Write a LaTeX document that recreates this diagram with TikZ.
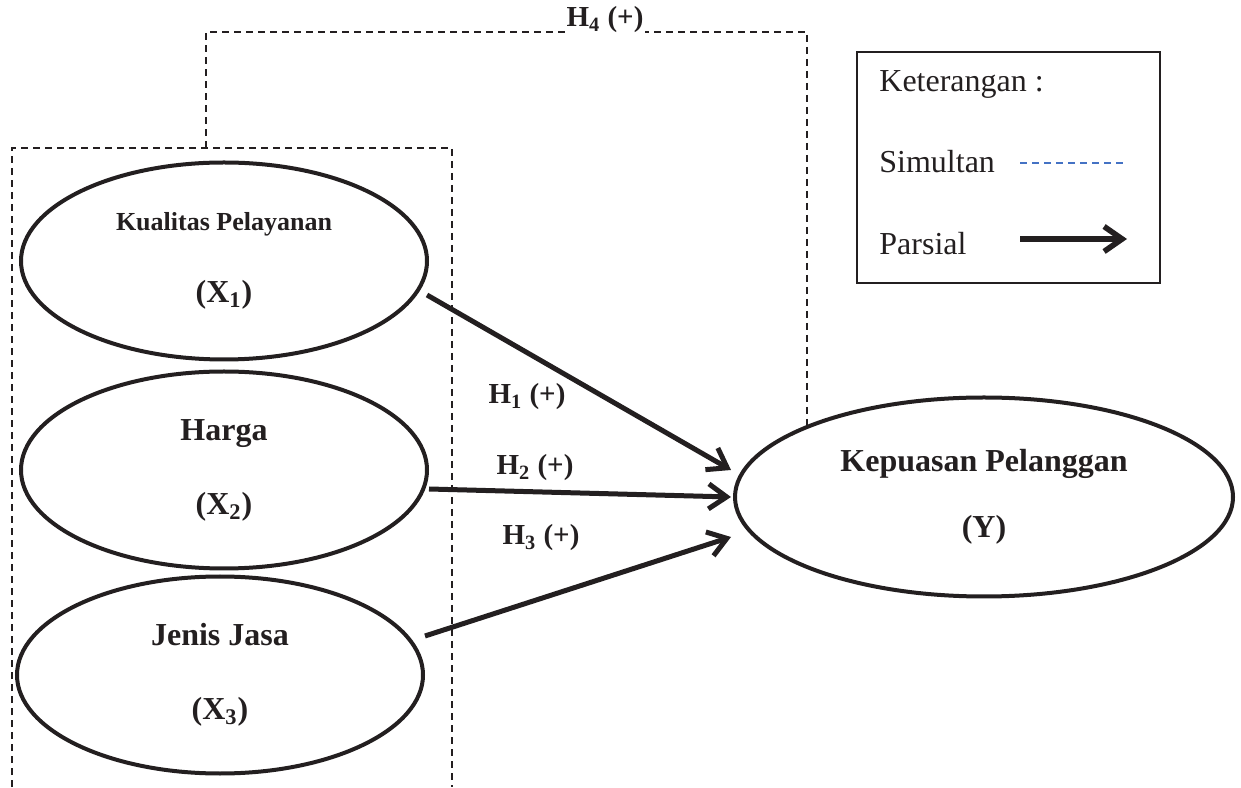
\documentclass[tikz,border=0pt]{standalone}
\usepackage{fontspec}
\setmainfont{Liberation Serif}
\usetikzlibrary{positioning, arrows.meta, shapes.geometric}
\definecolor{ink}{HTML}{231F20}
\definecolor{simblue}{HTML}{4472C4}

\begin{document}
\begin{tikzpicture}[
    x=0.5pt, y=0.5pt,
    var/.style={ellipse, draw=ink, line width=2pt, inner sep=0pt, text=ink,
                minimum width=203pt, minimum height=98.5pt,
                align=center, font=\fontsize{16}{19}\selectfont\bfseries},
    parsial/.style={-{Straight Barb[length=9pt, width=12.5pt]}, line width=2.5pt, draw=ink},
    simultan/.style={draw=ink, line width=1.1pt, dash pattern=on 3.5pt off 2.5pt},
    hyp/.style={text=ink, inner sep=0pt, font=\fontsize{14.5}{17}\selectfont\bfseries},
    legend/.style={text=ink, inner sep=0pt, anchor=base west, font=\fontsize{16}{19}\selectfont}
  ]
    \useasboundingbox (0,0) rectangle (1241,787);

    % variabel
    \node[var] (x1) at (224,526) {{\fontsize{13}{16}\selectfont Kualitas Pelayanan}\\[17pt](X\textsubscript{1})};
    \node[var] (x2) at (224,317) {Harga\\[18pt](X\textsubscript{2})};
    \node[var] (x3) at (220,112) {Jenis Jasa\\[18pt](X\textsubscript{3})};
    \node[var, minimum width=249pt, minimum height=99.5pt] (y) at (984,290)
         {Kepuasan Pelanggan\\[14pt](Y)};

    % kotak simultan
    \coordinate (boxtop) at (206,639);
    \coordinate (h4a) at (206,755);
    \coordinate (h4b) at (807,755);
    \draw[simultan] (12,0) |- (452,639) -- (452,0);
    \draw[simultan] (boxtop) -- (h4a) -- (h4b) -- (h4b |- y.158);
    \node[hyp, fill=white, inner xsep=1pt] (h4) at (605,767) {H\textsubscript{4} (+)};

    % parsial
    \draw[parsial] ([xshift=-1pt, yshift=-17pt]x1.east) -- ([xshift=-1pt, yshift=13.5pt]y.west);
    \draw[parsial] ([yshift=-9.5pt]x2.east) -- ([xshift=-1pt]y.west);
    \draw[parsial] ([yshift=19.5pt]x3.east) -- ([xshift=-1pt, yshift=-20pt]y.west);
    \node[hyp] (h1) at (527,390) {H\textsubscript{1} (+)};
    \node[hyp] (h2) at (535,319) {H\textsubscript{2} (+)};
    \node[hyp] (h3) at (541,249) {H\textsubscript{3} (+)};

    % keterangan
    \draw[ink, line width=1.2pt] (857,504) rectangle (1160,735);
    \node[legend] (ket) at (879,695) {Keterangan :};
    \node[legend] (sim) at (879,614) {Simultan};
    \node[legend] (par) at (879,532) {Parsial};
    \draw[simblue, line width=1.1pt, dash pattern=on 3.5pt off 2.5pt] (1020,624) -- (1127,624);
    \draw[parsial, line width=2.8pt] (1020,548) -- (1127,548);
  \end{tikzpicture}
\end{document}
